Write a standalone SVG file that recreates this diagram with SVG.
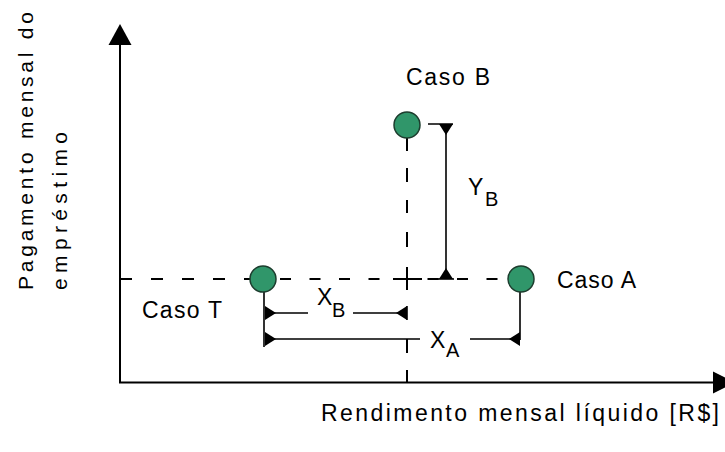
<svg xmlns="http://www.w3.org/2000/svg" width="725" height="452" viewBox="0 0 725 452">
<style>
text{font-family:"Liberation Sans",Arial,sans-serif;fill:#000;font-size:23px}
.sub{font-size:20px}
.axis{stroke:#000;stroke-width:2;fill:none}
.dash{stroke:#000;stroke-width:2;fill:none}
.dim{stroke:#000;stroke-width:1.6;fill:none}
.ah{fill:#000;stroke:none}
.pt{fill:#30966a;stroke:#1d3d2e;stroke-width:1.5}
</style>
<rect width="725" height="452" fill="#fff"/>
<g id="connectors">
<line class="axis" x1="120" y1="44" x2="120" y2="382.5"/>
<polygon class="ah" points="120,24 108.5,45 131.5,45"/>
<line class="axis" x1="119" y1="382.5" x2="714" y2="382.5"/>
<polygon class="ah" points="713,371.5 735,382.5 713,393.5"/>
<line class="dash" x1="120" y1="279" x2="252" y2="279" stroke-dasharray="12 19"/>
<line class="dash" x1="280" y1="279" x2="508" y2="279" stroke-dasharray="11 18.5"/>
<path class="dash" d="M407 138V151M407 168V182M407 200V213M407 232V247M407 339V353M407 370V382"/>
<path class="dash" d="M393 279H422M407 267V290"/>
<path class="dim" d="M264 292V347M520 292V340M428 124H453"/>
<line class="dim" x1="446" y1="124" x2="446" y2="279"/>
<polygon class="ah" points="439,124 453,124 446,135"/>
<polygon class="ah" points="439,279 453,279 446,268"/>
<line class="dim" x1="438" y1="279" x2="454" y2="279"/>
<path class="dim" d="M265 313H308M353 313H407M407 306V320"/>
<polygon class="ah" points="265,306 265,320 276,313"/>
<polygon class="ah" points="407,306 407,320 396,313"/>
<path class="dim" d="M265 339H420M470 339H520"/>
<polygon class="ah" points="265,332 265,346 276,339"/>
<polygon class="ah" points="520,332 520,346 509,339"/>
</g>
<g id="caso-b">
<circle class="pt" cx="407" cy="125" r="13"/>
<text x="406" y="85" textLength="84" lengthAdjust="spacing">Caso B</text>
</g>
<g id="caso-t">
<circle class="pt" cx="263" cy="279" r="13"/>
<text x="142" y="318" textLength="80" lengthAdjust="spacing">Caso T</text>
</g>
<g id="caso-a">
<circle class="pt" cx="521" cy="279" r="13"/>
<text x="557" y="288" textLength="79" lengthAdjust="spacing">Caso A</text>
</g>
<g id="labels">
<text x="468" y="195">Y</text><text class="sub" x="485" y="206">B</text>
<text x="317" y="305">X</text><text class="sub" x="332" y="317">B</text>
<text x="430" y="348">X</text><text class="sub" x="446" y="357">A</text>
<text x="321" y="421" textLength="398" lengthAdjust="spacing">Rendimento mensal líquido [R$]</text>
<text transform="translate(33,290) rotate(-90)" x="0" y="0" style="font-size:21px" textLength="278" lengthAdjust="spacing">Pagamento mensal do</text>
<text transform="translate(67,290) rotate(-90)" x="0" y="0" style="font-size:21px" textLength="158" lengthAdjust="spacing">empréstimo</text>
</g>
</svg>
